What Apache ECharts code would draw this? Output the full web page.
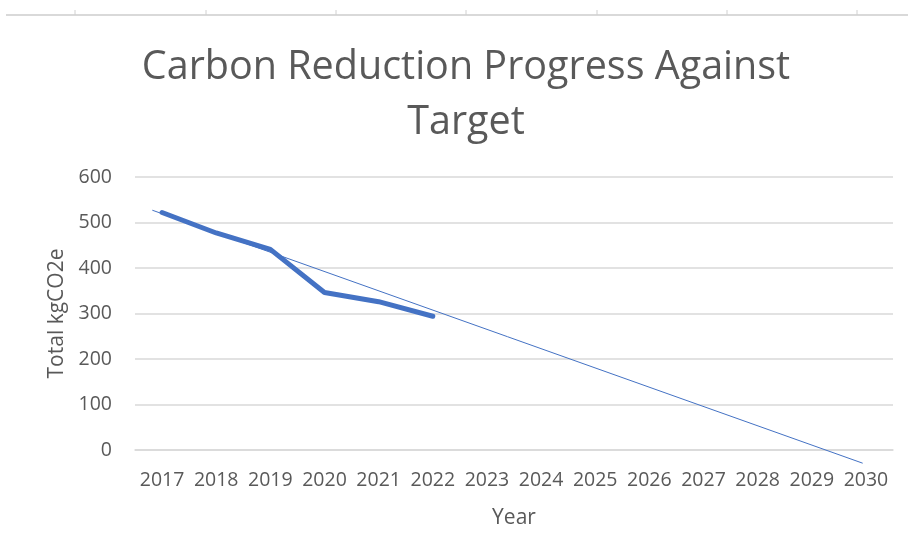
<!DOCTYPE html>
<html>
<head>
<meta charset="utf-8">
<script src="https://cdn.jsdelivr.net/npm/echarts@6/dist/echarts.min.js"></script>
<style>html,body{margin:0;padding:0;background:#fff}#c{width:908px;height:554px}</style>
</head>
<body>
<div id="c"></div>
<script>
const years = ['2017','2018','2019','2020','2021','2022','2023','2024','2025','2026','2027','2028','2029','2030'];
const actual = [522, 477, 441, 346, 326, 294];
const targetYears = [2016.82, 2029.94];
const targetValues = [527, -29];
const yTicks = [0, 100, 200, 300, 400, 500, 600];

const chart = echarts.init(document.getElementById('c'));
const txt = '#595959';
const font = 'Open Sans';
chart.setOption({
  backgroundColor: '#fff',
  animation: false,
  title: {
    text: 'Carbon Reduction Progress Against\nTarget',
    left: 461, top: 35, textAlign: 'center',
    textStyle: { color: txt, fontFamily: font, fontWeight: 'normal', fontSize: 39.5, lineHeight: 55 }
  },
  graphic: [
    { type: 'line', shape: { x1: 6, y1: 15, x2: 908, y2: 15 }, style: { stroke: '#d9d9d9', lineWidth: 2 }, silent: true },
    ...[75, 206, 336, 466, 597, 727, 857].map(x => ({ type: 'line', shape: { x1: x, y1: 10, x2: x, y2: 15 }, style: { stroke: '#d0d0d0', lineWidth: 1 }, silent: true }))
  ],
  grid: { left: 135, right: 15, top: 177, bottom: 104 },
  xAxis: [
    {
      type: 'category', data: years, boundaryGap: true,
      name: 'Year', nameLocation: 'middle', nameGap: 58,
      nameTextStyle: { color: txt, fontFamily: font, fontSize: 21 },
      axisLine: { show: true, lineStyle: { color: '#d9d9d9', width: 1.5 } },
      axisTick: { show: false },
      axisLabel: { color: txt, fontFamily: font, fontSize: 19.5, margin: 20, interval: 0 }
    },
    {
      type: 'value', min: 2016.5, max: 2030.5, show: false
    }
  ],
  yAxis: {
    type: 'value', min: yTicks[0], max: yTicks[yTicks.length - 1], interval: 100,
    name: 'Total kgCO2e', nameLocation: 'middle', nameGap: 67, nameRotate: 90,
    nameTextStyle: { color: txt, fontFamily: font, fontSize: 21 },
    axisLine: { show: false }, axisTick: { show: false },
    axisLabel: { color: txt, fontFamily: font, fontSize: 19.5, margin: 23 },
    splitLine: { lineStyle: { color: '#d9d9d9', width: 1.5 } }
  },
  series: [
    {
      type: 'line', xAxisIndex: 1, clip: false,
      data: targetYears.map((y, i) => [y, targetValues[i]]),
      symbol: 'none', lineStyle: { color: '#4472C4', width: 1 }, z: 2
    },
    {
      type: 'line', xAxisIndex: 0, data: actual,
      symbol: 'none', lineStyle: { color: '#4472C4', width: 5, cap: 'round', join: 'round' }, z: 3
    }
  ]
});
</script>
</body>
</html>
